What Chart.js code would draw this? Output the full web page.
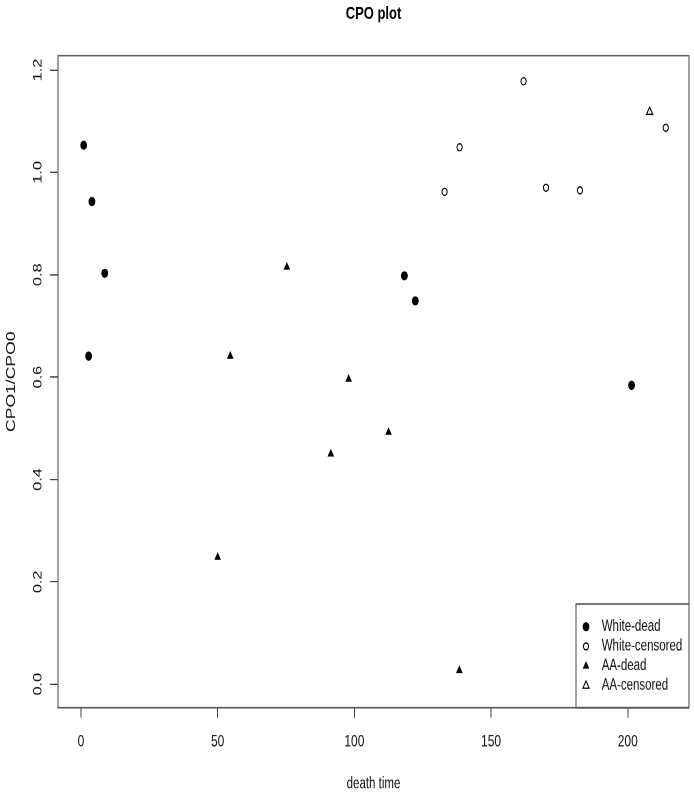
<!DOCTYPE html>
<html>
<head>
<meta charset="utf-8">
<script src="https://cdn.jsdelivr.net/npm/chart.js@4/dist/chart.umd.min.js"></script>
<style>
  html, body { margin: 0; background: #fff; }
  #outer { width: 694px; height: 793px; overflow: hidden; position: relative; }
  #wrap { position: absolute; left: 0; top: 0; width: 694px; height: 587px; transform: scaleY(1.351); transform-origin: 0 0; }
  canvas { display: block; }
</style>
</head>
<body>
<div id="outer"><div id="wrap"><canvas id="cpo" width="694" height="587"></canvas></div></div>
<script>
// the reference picture is stretched vertically, so draw short and scale up
const stretch = 793 / 587;

const xTicks = [0, 50, 100, 150, 200];
const yTicks = [0, 0.2, 0.4, 0.6, 0.8, 1.0, 1.2];
const seriesNames = ['White-dead', 'White-censored', 'AA-dead', 'AA-censored'];

const whiteDeadTime = [1.0, 4.0, 2.8, 8.7, 118.3, 122.3, 201.4];
const whiteDeadCPO = [1.053, 0.943, 0.641, 0.803, 0.798, 0.749, 0.584];
const whiteCensTime = [133.0, 138.5, 161.9, 170.1, 182.5, 213.9];
const whiteCensCPO = [0.962, 1.049, 1.178, 0.970, 0.965, 1.087];
const aaDeadTime = [50.0, 54.6, 75.3, 91.4, 97.9, 112.5, 138.4];
const aaDeadCPO = [0.248, 0.641, 0.815, 0.450, 0.596, 0.492, 0.027];
const aaCensTime = [208.0];
const aaCensCPO = [1.118];

function pts(xs, ys) {
    return xs.map((x, i) => ({x: x, y: ys[i]}));
}

const font = "'Liberation Sans', Arial, Helvetica, sans-serif";
const lineCol = '#444';

// box round the plot and the legend in the bottom right corner
const boxLegend = {
    id: 'boxLegend',
    afterDraw(chart) {
        const ctx = chart.ctx;
        const a = chart.chartArea;
        ctx.save();
        ctx.strokeStyle = lineCol;
        ctx.lineWidth = 1;
        ctx.strokeRect(a.left, a.top, a.right - a.left, a.bottom - a.top);

        const lx = 576, ly = 604 / stretch;
        ctx.strokeRect(lx, ly, a.right - lx, a.bottom - ly);

        ctx.font = '11.5px ' + font;
        ctx.textBaseline = 'middle';
        ctx.textAlign = 'left';
        chart.data.datasets.forEach((ds, i) => {
            const y = ly + 16.8 + i * 14.56;
            ctx.fillStyle = ds.backgroundColor;
            ctx.strokeStyle = ds.borderColor;
            Chart.helpers.drawPoint(ctx, {
                pointStyle: ds.pointStyle,
                rotation: 0,
                radius: ds.pointRadius,
                borderWidth: ds.borderWidth
            }, 586, y);
            ctx.fillStyle = '#111';
            ctx.fillText(ds.label, 601.7, y);
        });
        ctx.restore();
    }
};

new Chart(document.getElementById('cpo').getContext('2d'), {
    type: 'scatter',
    data: {
        datasets: [{
            label: seriesNames[0],
            data: pts(whiteDeadTime, whiteDeadCPO),
            pointStyle: 'circle',
            pointRadius: 3.4,
            backgroundColor: '#000',
            borderColor: '#000',
            borderWidth: 0
        }, {
            label: seriesNames[1],
            data: pts(whiteCensTime, whiteCensCPO),
            pointStyle: 'circle',
            pointRadius: 2.6,
            backgroundColor: 'rgba(0,0,0,0)',
            borderColor: '#000',
            borderWidth: 1
        }, {
            label: seriesNames[2],
            data: pts(aaDeadTime, aaDeadCPO),
            pointStyle: 'triangle',
            pointRadius: 3.8,
            backgroundColor: '#000',
            borderColor: '#000',
            borderWidth: 0
        }, {
            label: seriesNames[3],
            data: pts(aaCensTime, aaCensCPO),
            pointStyle: 'triangle',
            pointRadius: 3.6,
            backgroundColor: 'rgba(0,0,0,0)',
            borderColor: '#000',
            borderWidth: 1
        }]
    },
    options: {
        responsive: false,
        devicePixelRatio: 2,
        animation: false,
        layout: {padding: {left: 0, right: 5, top: 0, bottom: 0}},
        plugins: {
            legend: {display: false},
            tooltip: {enabled: false},
            title: {
                display: true,
                text: 'CPO plot',
                fullSize: false,
                color: '#000',
                font: {family: font, size: 13, weight: 'bold'},
                padding: {top: 2.6, bottom: 23}
            }
        },
        scales: {
            x: {
                type: 'linear',
                min: -8.4,
                max: 222.4,
                afterBuildTicks: s => { s.ticks = xTicks.map(v => ({value: v})); },
                afterFit: s => { s.height = 587 - 707.7 / stretch; },
                border: {display: false},
                grid: {drawOnChartArea: false, drawTicks: true, tickLength: 7.4, color: lineCol},
                ticks: {color: '#111', padding: 10.5, font: {family: font, size: 12}},
                title: {
                    display: true,
                    text: 'death time',
                    color: '#111',
                    font: {family: font, size: 11.5},
                    padding: {top: 0, bottom: 0}
                }
            },
            y: {
                type: 'linear',
                min: -0.046,
                max: 1.228,
                afterBuildTicks: s => { s.ticks = yTicks.map(v => ({value: v})); },
                afterFit: s => { s.width = 58; },
                border: {display: false},
                grid: {drawOnChartArea: false, drawTicks: true, tickLength: 8, color: lineCol},
                ticks: {
                    color: '#111',
                    padding: 3.7,
                    minRotation: 90,
                    maxRotation: 90,
                    crossAlign: 'center',
                    font: {family: font, size: 12},
                    callback: v => v.toFixed(1)
                },
                title: {
                    display: true,
                    text: 'CPO1/CPO0',
                    color: '#111',
                    font: {family: font, size: 13},
                    padding: {top: 3.4, bottom: 0}
                }
            }
        }
    },
    plugins: [boxLegend]
});
</script>
</body>
</html>
